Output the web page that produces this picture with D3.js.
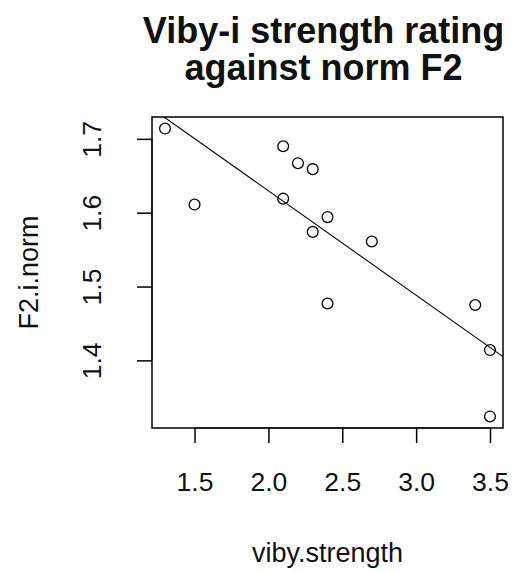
<!DOCTYPE html>
<html>
<head>
<meta charset="utf-8">
<script src="https://cdn.jsdelivr.net/npm/d3@7"></script>
<style>
  body { margin: 0; background: #fff; }
  text { font-family: "Liberation Sans", Arial, sans-serif; fill: #111; }
</style>
</head>
<body>
<svg id="chart" width="522" height="573"></svg>
<script>
// values
const strength = [1.3, 1.5, 2.1, 2.2, 2.3, 2.1, 2.4, 2.3, 2.7, 2.4, 3.4, 3.5, 3.5];
const f2norm = [1.714, 1.611, 1.690, 1.667, 1.659, 1.619, 1.594, 1.574, 1.561, 1.477, 1.475, 1.414, 1.324];
const xTicks = [1.5, 2.0, 2.5, 3.0, 3.5];
const yTicks = [1.4, 1.5, 1.6, 1.7];
const titleLines = ["Viby-i strength rating", "against norm F2"];
const xLabel = "viby.strength";
const yLabel = "F2.i.norm";

const margin = {top: 117, right: 19, bottom: 145, left: 152};

// R-style axis range: data extent padded by 4%
function padExtent(vals) {
  let [lo, hi] = d3.extent(vals);
  let pad = (hi - lo) * 0.04;
  return [lo - pad, hi + pad];
}

// least squares fit, like abline(lm(y ~ x))
function fitLine(xs, ys) {
  let mx = d3.mean(xs), my = d3.mean(ys);
  let sxy = d3.sum(xs, (v, i) => (v - mx) * (ys[i] - my));
  let sxx = d3.sum(xs, v => (v - mx) * (v - mx));
  let b = sxy / sxx;
  return {a: my - b * mx, b: b};
}

function render() {
  const svg = d3.select("#chart");
  const width = +svg.attr("width");
  const height = +svg.attr("height");
  const data = strength.map((s, i) => ({x: s, y: f2norm[i]}));

  const x = d3.scaleLinear()
    .domain(padExtent(strength))
    .range([margin.left, width - margin.right]);
  const y = d3.scaleLinear()
    .domain(padExtent(f2norm))
    .range([height - margin.bottom, margin.top]);

  svg.append("clipPath").attr("id", "plotClip")
    .append("rect")
    .attr("x", margin.left).attr("y", margin.top)
    .attr("width", width - margin.left - margin.right)
    .attr("height", height - margin.top - margin.bottom);

  // regression line, clipped to the plot box
  const fit = fitLine(strength, f2norm);
  const xd = x.domain();
  svg.append("line")
    .attr("clip-path", "url(#plotClip)")
    .attr("x1", x(xd[0])).attr("y1", y(fit.a + fit.b * xd[0]))
    .attr("x2", x(xd[1])).attr("y2", y(fit.a + fit.b * xd[1]))
    .attr("stroke", "#000")
    .attr("stroke-width", 1.1);

  svg.append("g")
    .selectAll("circle")
    .data(data)
    .enter().append("circle")
    .attr("cx", d => x(d.x))
    .attr("cy", d => y(d.y))
    .attr("r", 5.4)
    .attr("fill", "none")
    .attr("stroke", "#000")
    .attr("stroke-width", 1.3);

  // box
  svg.append("rect")
    .attr("x", margin.left).attr("y", margin.top)
    .attr("width", width - margin.left - margin.right)
    .attr("height", height - margin.top - margin.bottom)
    .attr("fill", "none")
    .attr("stroke", "#000")
    .attr("stroke-width", 1.5);

  // x-axis
  const xAxis = svg.append("g")
    .attr("transform", `translate(0, ${height - margin.bottom})`)
    .call(d3.axisBottom(x).tickValues(xTicks).tickFormat(d3.format(".1f")).tickSize(15).tickPadding(29).tickSizeOuter(0));
  xAxis.select(".domain")
    .attr("d", `M${x(xTicks[0])},0H${x(xTicks[xTicks.length - 1])}`);
  xAxis.selectAll("line").attr("stroke-width", 1.5);
  xAxis.selectAll("text")
    .attr("font-size", 26.5)
    .style("font-family", "Liberation Sans, Arial, sans-serif")
    .attr("fill", "#111");

  // y-axis, labels turned like R's default las = 0
  const yAxis = svg.append("g")
    .attr("transform", `translate(${margin.left}, 0)`)
    .call(d3.axisLeft(y).tickValues(yTicks).tickFormat(d3.format(".1f")).tickSize(15).tickSizeOuter(0));
  yAxis.select(".domain")
    .attr("d", `M0,${y(yTicks[0])}V${y(yTicks[yTicks.length - 1])}`);
  yAxis.selectAll("line").attr("stroke-width", 1.5);
  yAxis.selectAll("text")
    .attr("x", null).attr("dy", null)
    .attr("transform", "translate(-51, 0) rotate(-90)")
    .attr("text-anchor", "middle")
    .attr("font-size", 26.5)
    .style("font-family", "Liberation Sans, Arial, sans-serif")
    .attr("fill", "#111");

  svg.append("g")
    .selectAll("text")
    .data(titleLines)
    .enter().append("text")
    .attr("x", (margin.left + width - margin.right) / 2 - 4)
    .attr("y", (d, i) => 43 + i * 37)
    .attr("text-anchor", "middle")
    .attr("font-size", 36)
    .attr("font-weight", "bold")
    .text(d => d);

  svg.append("text")
    .attr("x", (margin.left + width - margin.right) / 2)
    .attr("y", 562)
    .attr("text-anchor", "middle")
    .attr("font-size", 27)
    .text(xLabel);

  svg.append("text")
    .attr("transform", `translate(38, ${(margin.top + height - margin.bottom) / 2}) rotate(-90)`)
    .attr("text-anchor", "middle")
    .attr("font-size", 27)
    .text(yLabel);
}

render();
</script>
</body>
</html>
